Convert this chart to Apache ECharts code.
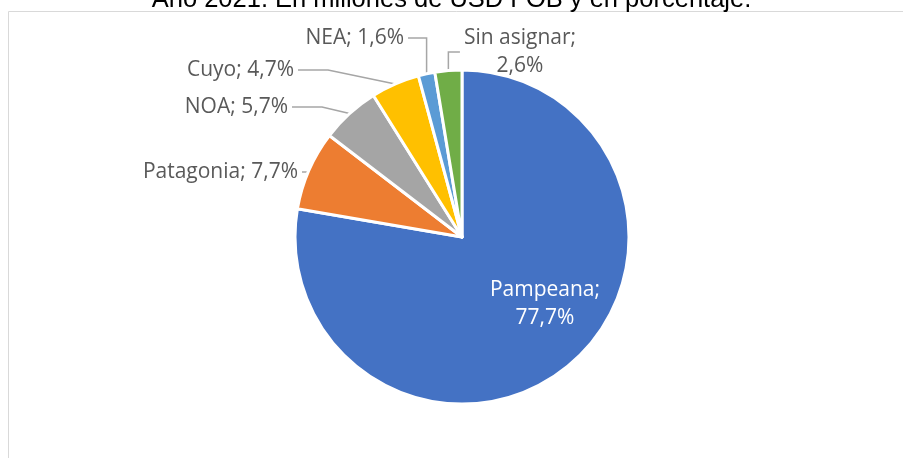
<!DOCTYPE html>
<html lang="es">
<head>
    <meta charset="UTF-8">
    <title>Exportaciones por región</title>
    <script src="https://cdn.jsdelivr.net/npm/echarts@6/dist/echarts.min.js"></script>
    <style>
        html, body { margin: 0; padding: 0; background: #fff; }
        #chart { width: 903px; height: 458px; }
    </style>
</head>
<body>
<div id="chart"></div>
<script>
    // datos
    var titleText = 'Año 2021. En millones de USD FOB y en porcentaje.';
    var regions = ['Pampeana', 'Patagonia', 'NOA', 'Cuyo', 'NEA', 'Sin asignar'];
    var shares = [77.7, 7.7, 5.7, 4.7, 1.6, 2.6];
    var colors = ['#4472C4', '#ED7D31', '#A5A5A5', '#FFC000', '#5B9BD5', '#70AD47'];

    // donde va cada etiqueta (x, y, alineacion)
    var labelPos = [
        [545, 304, 'center'],
        [302, 172, 'right'],
        [292, 107, 'right'],
        [298, 70, 'right'],
        [408, 38, 'right'],
        [520, 52, 'center']
    ];
    var wrapNames = ['Pampeana', 'Sin asignar'];

    function fmt(v) {
        return v.toFixed(1).replace('.', ',') + '%';
    }

    var data = regions.map(function (name, i) {
        var item = {
            name: name,
            value: shares[i],
            itemStyle: { color: colors[i] }
        };
        if (i === 0) {
            item.label = { color: '#fff' };
            item.labelLine = { show: false };
        }
        return item;
    });

    var chart = echarts.init(document.getElementById('chart'));
    var option = {
        animation: false,
        title: {
            text: titleText,
            left: 'center',
            top: -18,
            textStyle: {
                fontFamily: 'Liberation Sans',
                fontWeight: 'normal',
                fontSize: 25.5,
                color: '#000'
            }
        },
        graphic: [{
            type: 'rect',
            shape: { x: 8.5, y: 11.5, width: 1000, height: 1000 },
            style: { fill: 'none', stroke: '#d9d9d9', lineWidth: 1 },
            silent: true
        }],
        series: [{
            type: 'pie',
            center: [462, 237],
            radius: 167,
            startAngle: 90,
            clockwise: true,
            data: data,
            itemStyle: { borderColor: '#fff', borderWidth: 3 },
            label: {
                show: true,
                fontFamily: 'Open Sans',
                fontSize: 21,
                lineHeight: 28,
                padding: [0, 4],
                color: '#595959',
                formatter: function (p) {
                    var sep = wrapNames.indexOf(p.name) >= 0 ? ';\n' : '; ';
                    return p.name + sep + fmt(p.value);
                }
            },
            labelLine: {
                show: true,
                lineStyle: { color: '#a6a6a6', width: 1.5 }
            },
            labelLayout: function (params) {
                var pos = labelPos[params.dataIndex];
                return {
                    x: pos[0],
                    y: pos[1],
                    align: pos[2],
                    verticalAlign: 'middle'
                };
            }
        }]
    };
    chart.setOption(option);
</script>
</body>
</html>
